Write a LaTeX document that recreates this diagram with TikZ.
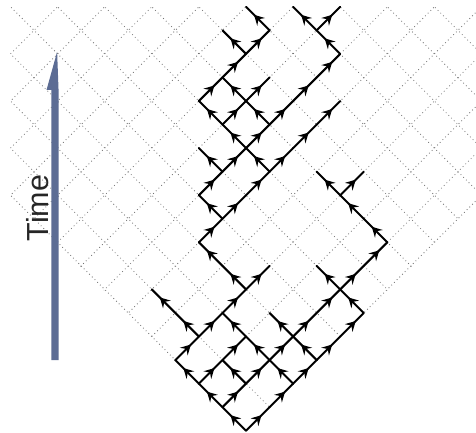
\documentclass[tikz,border=0pt]{standalone}
\usepackage{fontspec}
\newfontfamily\timefont{Liberation Sans}
\usetikzlibrary{arrows.meta,decorations.markings}
\definecolor{timeblue}{RGB}{92,108,148}

\begin{document}
\begin{tikzpicture}[x=0.5cm,y=0.5cm,
   lattice/.style={black!55,line width=0.5pt,dash pattern=on 0.5pt off 1.8pt},
   worldline/.style={line width=1.2pt,line cap=round,postaction={decorate},
     decoration={markings,mark=at position 0.66 with {\arrow{Stealth[length=6pt,width=6.5pt,inset=2.2pt]}}}}]
  \useasboundingbox (-10.446,-0.055) rectangle (9.766,18.289);
  % lattice points
  \foreach \i in {-10,...,10}
    \foreach \j in {0,...,18}
      \coordinate (v\i_\j) at (\i,\j);
  % dotted grid inside the cone
  \begin{scope}
    \clip (0,-0.07) -- (-10,9.93) -- (-10,18) -- (10,18) -- (10,9.93) -- cycle;
    \foreach \k in {-30,-28,...,30} {
      \draw[lattice] (\k,0) -- ++(20,20);
      \draw[lattice] (\k,0) -- ++(-20,20);
    }
  \end{scope}
  % branches: start i / start j / step
  \foreach \i/\j/\d in {0/0/-1, 0/0/1,
      -1/1/-1, -1/1/1, 1/1/1,
      -2/2/-1, -2/2/1, 0/2/-1, 0/2/1, 2/2/-1, 2/2/1,
      -3/3/1, -1/3/1, 1/3/-1, 1/3/1, 3/3/-1, 3/3/1,
      -2/4/-1, -2/4/1, 0/4/-1, 2/4/-1, 2/4/1, 4/4/1,
      -3/5/-1, -1/5/1, 3/5/1, 5/5/-1,
      0/6/-1, 0/6/1, 4/6/-1, 4/6/1,
      -1/7/-1, 5/7/1,
      -2/8/1, 6/8/-1,
      -1/9/-1, -1/9/1, 5/9/-1,
      -2/10/1, 0/10/1, 4/10/-1, 4/10/1,
      -1/11/-1, -1/11/1, 1/11/-1, 1/11/1,
      0/12/-1, 0/12/1, 2/12/1,
      -1/13/-1, -1/13/1, 1/13/-1, 1/13/1, 3/13/1,
      -2/14/1, 0/14/-1, 0/14/1, 2/14/1,
      -1/15/1, 3/15/1,
      0/16/-1, 0/16/1, 4/16/-1,
      1/17/-1, 3/17/-1, 3/17/1} {
    \pgfmathtruncatemacro{\ii}{\i+\d}
    \pgfmathtruncatemacro{\jj}{\j+1}
    \draw[worldline] (v\i_\j) -- (v\ii_\jj);
  }
  % time axis
  \coordinate (tbase) at (-8.11,3.0);
  \coordinate (ttip) at (-8.02,16.09);
  \fill[timeblue] ([xshift=-0.15cm/2]tbase) -- ([xshift=0.15cm/2]tbase)
    -- ([xshift=0.15cm/2]tbase |- 0,14.47) -- (ttip)
    -- ([xshift=-0.36cm/2]tbase |- 0,14.47) -- ([xshift=-0.15cm/2]tbase |- 0,14.47)
    -- cycle;
  \node[rotate=90,inner sep=0pt,text=black!85,font=\timefont\fontsize{18.4}{20}\selectfont]
    (timelabel) at (-8.854,9.456) {Time};
\end{tikzpicture}
\end{document}
